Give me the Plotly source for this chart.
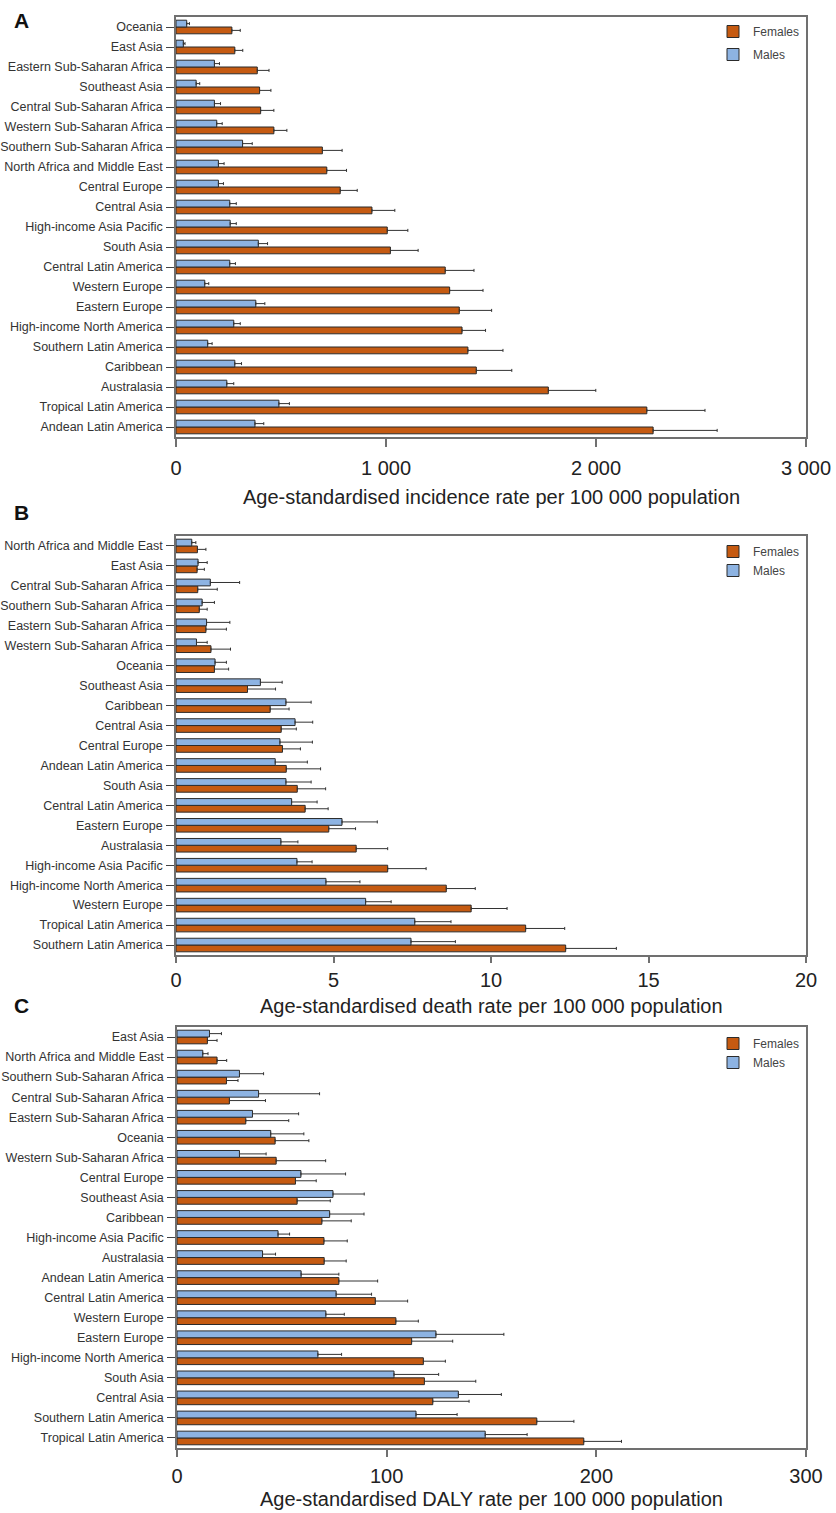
import plotly.graph_objects as go
from plotly.subplots import make_subplots

# ---------------- data (top-to-bottom order as shown) ----------------
regions_a = ["Oceania", "East Asia", "Eastern Sub-Saharan Africa", "Southeast Asia",
             "Central Sub-Saharan Africa", "Western Sub-Saharan Africa", "Southern Sub-Saharan Africa",
             "North Africa and Middle East", "Central Europe", "Central Asia", "High-income Asia Pacific",
             "South Asia", "Central Latin America", "Western Europe", "Eastern Europe",
             "High-income North America", "Southern Latin America", "Caribbean", "Australasia",
             "Tropical Latin America", "Andean Latin America"]
inc_female = [266, 280, 387, 398, 403, 466, 697, 718, 782, 933, 1006, 1021, 1282, 1303, 1349, 1362, 1390, 1430, 1773, 2242, 2272]
inc_female_upper = [306, 318, 443, 452, 466, 528, 791, 812, 863, 1042, 1104, 1153, 1419, 1462, 1503, 1474, 1557, 1599, 1999, 2519, 2577]
inc_male = [51, 35, 183, 96, 183, 194, 317, 202, 202, 256, 258, 392, 256, 137, 380, 275, 151, 280, 242, 490, 376]
inc_male_upper = [64, 43, 207, 113, 212, 220, 363, 229, 226, 287, 287, 436, 283, 156, 423, 306, 172, 312, 275, 540, 418]

regions_b = ["North Africa and Middle East", "East Asia", "Central Sub-Saharan Africa",
             "Southern Sub-Saharan Africa", "Eastern Sub-Saharan Africa", "Western Sub-Saharan Africa",
             "Oceania", "Southeast Asia", "Caribbean", "Central Asia", "Central Europe",
             "Andean Latin America", "South Asia", "Central Latin America", "Eastern Europe",
             "Australasia", "High-income Asia Pacific", "High-income North America", "Western Europe",
             "Tropical Latin America", "Southern Latin America"]
death_female = [0.68, 0.67, 0.69, 0.74, 0.95, 1.11, 1.22, 2.27, 2.99, 3.34, 3.38, 3.50, 3.85, 4.10, 4.85, 5.72, 6.72, 8.58, 9.37, 11.10, 12.37]
death_female_upper = [0.95, 0.90, 1.31, 0.99, 1.60, 1.73, 1.67, 3.16, 3.59, 3.82, 3.95, 4.59, 4.75, 4.83, 5.70, 6.72, 7.94, 9.50, 10.51, 12.34, 13.98]
death_male = [0.50, 0.70, 1.09, 0.83, 0.97, 0.65, 1.24, 2.68, 3.49, 3.78, 3.30, 3.15, 3.49, 3.67, 5.27, 3.33, 3.84, 4.76, 6.02, 7.58, 7.46]
death_male_upper = [0.63, 0.99, 2.02, 1.22, 1.71, 0.99, 1.60, 3.37, 4.29, 4.34, 4.33, 4.17, 4.29, 4.48, 6.39, 3.87, 4.32, 5.84, 6.83, 8.73, 8.87]

regions_c = ["East Asia", "North Africa and Middle East", "Southern Sub-Saharan Africa",
             "Central Sub-Saharan Africa", "Eastern Sub-Saharan Africa", "Oceania",
             "Western Sub-Saharan Africa", "Central Europe", "Southeast Asia", "Caribbean",
             "High-income Asia Pacific", "Australasia", "Andean Latin America", "Central Latin America",
             "Western Europe", "Eastern Europe", "High-income North America", "South Asia",
             "Central Asia", "Southern Latin America", "Tropical Latin America"]
daly_female = [14.5, 19.1, 23.6, 25.0, 32.8, 46.8, 47.3, 56.5, 57.3, 69.1, 70.1, 70.2, 77.2, 94.6, 104.4, 111.9, 117.5, 118.0, 122.0, 171.6, 194.0]
daly_female_upper = [19.1, 23.7, 29.1, 42.2, 53.3, 62.9, 70.9, 66.4, 73.1, 83.1, 81.2, 80.7, 95.7, 110.0, 115.1, 131.5, 128.0, 142.5, 139.3, 189.3, 212.0]
daly_male = [15.5, 12.3, 29.8, 38.9, 36.0, 44.7, 29.8, 59.1, 74.4, 72.8, 48.2, 40.8, 59.2, 75.9, 71.0, 123.5, 67.2, 103.5, 134.2, 114.0, 147.0]
daly_male_upper = [21.2, 14.8, 41.3, 68.0, 58.0, 60.5, 42.5, 80.4, 89.3, 89.2, 53.7, 47.0, 77.2, 92.8, 79.8, 155.9, 78.5, 124.8, 154.7, 133.6, 167.0]

ticks_a = [0, 1000, 2000, 3000]
ticklabels_a = ["0", "1 000", "2 000", "3 000"]
ticks_b = [0, 5, 10, 15, 20]
ticks_c = [0, 100, 200, 300]

titles = ["Age-standardised incidence rate per 100 000 population",
          "Age-standardised death rate per 100 000 population",
          "Age-standardised DALY rate per 100 000 population"]
panel_letters = ["A", "B", "C"]

# ---------------- styling ----------------
W, H = 836, 1513
FEMALE = "#C55A11"
MALE = "#8DB3E2"
OUTLINE = "#2b2b2b"
AXIS = "#707070"
FONT = "Arial, Liberation Sans, sans-serif"

fig = make_subplots(rows=3, cols=1)

panels = [
    (regions_a, inc_female, inc_female_upper, inc_male, inc_male_upper, [0, 3000], ticks_a, ticklabels_a),
    (regions_b, death_female, death_female_upper, death_male, death_male_upper, [0, 20], ticks_b, [str(t) for t in ticks_b]),
    (regions_c, daly_female, daly_female_upper, daly_male, daly_male_upper, [0, 300], ticks_c, [str(t) for t in ticks_c]),
]

# plot-area pixel boxes (x0, x1, ytop, ybottom)
boxes = [(176, 806, 17, 437), (176, 806, 536, 955), (177, 806, 1027, 1448)]
title_y = [497, 1006, 1499]
letter_y = [20, 512, 1005]
legend_top = [17, 537, 1029]
legend_gap = [4, 0, 0]
xtick_standoff = [4, 0, 2]
xtick_len = [8, 6, 7]

def py(v):
    return 1 - v / H

for i, (cats, fv, fu, mv, mu, rng, tv, tt) in enumerate(panels):
    row = i + 1
    legname = "legend" if i == 0 else f"legend{i+1}"
    fplus = [u - v for u, v in zip(fu, fv)]
    mplus = [u - v for u, v in zip(mu, mv)]
    for name, vals, plus, col in [("Females", fv, fplus, FEMALE), ("Males", mv, mplus, MALE)]:
        fig.add_trace(go.Bar(
            y=cats, x=vals, name=name, orientation="h",
            marker=dict(color=col, line=dict(color=OUTLINE, width=1)),
            error_x=dict(type="data", symmetric=False, array=plus, arrayminus=[0] * len(vals),
                         color="#333333", thickness=1, width=1.5),
            legend=legname, legendgroup=f"{name}{i}", showlegend=True,
        ), row=row, col=1)

    x0, x1, yt, yb = boxes[i]
    xa = "xaxis" if i == 0 else f"xaxis{i+1}"
    ya = "yaxis" if i == 0 else f"yaxis{i+1}"
    fig.layout[xa].update(
        domain=[x0 / W, x1 / W], range=rng, tickvals=tv, ticktext=tt,
        showline=True, linecolor=AXIS, linewidth=1.5, mirror=True,
        ticks="outside", ticklen=xtick_len[i], tickwidth=1.5, tickcolor=AXIS,
        showgrid=False, zeroline=False, automargin=False,
        tickfont=dict(size=20, color="#222222", family=FONT), ticklabelstandoff=xtick_standoff[i],
    )
    fig.layout[ya].update(
        domain=[py(yb), py(yt)], type="category", categoryorder="array",
        categoryarray=cats[::-1], range=[-0.5, len(cats) - 0.5],
        showline=True, linecolor=AXIS, linewidth=1.5, mirror=True,
        ticks="outside", ticklen=8, tickwidth=1, tickcolor="#444444",
        showgrid=False, zeroline=False, automargin=False,
        tickfont=dict(size=12.5, color="#333333", family=FONT), ticklabelstandoff=1,
    )
    fig.layout[legname] = dict(
        x=805 / W, xanchor="right", y=py(legend_top[i]), yanchor="top",
        bgcolor="rgba(0,0,0,0)", font=dict(size=12, color="#444444", family=FONT),
        tracegroupgap=legend_gap[i], itemwidth=30,
    )
    fig.add_annotation(xref="paper", yref="paper", x=(x0 + x1) / 2 / W, y=py(title_y[i]),
                       text=titles[i], showarrow=False, xanchor="center", yanchor="middle",
                       font=dict(size=20, color="#222222", family=FONT))
    fig.add_annotation(xref="paper", yref="paper", x=12 / W, y=py(letter_y[i]),
                       text=f"<b>{panel_letters[i]}</b>", showarrow=False, xanchor="left", yanchor="middle",
                       font=dict(size=21, color="#111111", family=FONT))

fig.update_layout(
    width=W, height=H, template="none",
    margin=dict(l=0, r=0, t=0, b=0),
    paper_bgcolor="white", plot_bgcolor="white",
    barmode="group", bargap=0.32, bargroupgap=0.0,
    font=dict(family=FONT),
)

fig.write_html("out.html", config={"displayModeBar": False},
               post_script="document.body.style.margin='0';")
